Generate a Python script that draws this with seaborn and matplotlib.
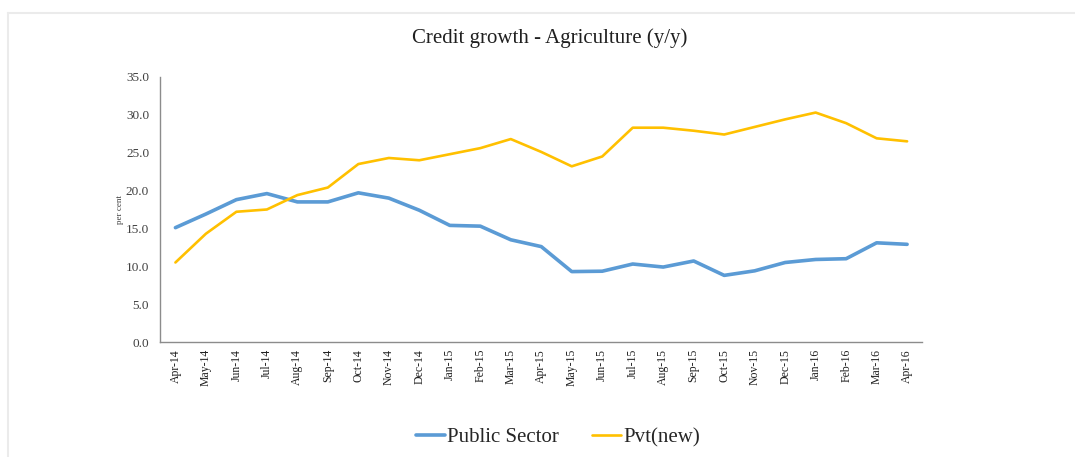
import pandas as pd
import numpy as np
import matplotlib
matplotlib.use("Agg")
import matplotlib.pyplot as plt
import seaborn as sns

months = ["Apr-14", "May-14", "Jun-14", "Jul-14", "Aug-14", "Sep-14", "Oct-14", "Nov-14",
          "Dec-14", "Jan-15", "Feb-15", "Mar-15", "Apr-15", "May-15", "Jun-15", "Jul-15",
          "Aug-15", "Sep-15", "Oct-15", "Nov-15", "Dec-15", "Jan-16", "Feb-16", "Mar-16", "Apr-16"]
public_sector = [15.1, 16.9, 18.8, 19.6, 18.5, 18.5, 19.7, 19.0, 17.4, 15.4, 15.3, 13.5, 12.6,
                 9.3, 9.35, 10.3, 9.9, 10.7, 8.8, 9.4, 10.5, 10.9, 11.0, 13.1, 12.9]
pvt_new = [10.5, 14.3, 17.2, 17.5, 19.4, 20.4, 23.5, 24.3, 24.0, 24.8, 25.6, 26.8, 25.1,
           23.2, 24.5, 28.3, 28.3, 27.9, 27.4, 28.4, 29.4, 30.3, 28.9, 26.9, 26.5]
yticks = [0, 5, 10, 15, 20, 25, 30, 35]

df = pd.DataFrame({"month": months * 2,
                   "value": public_sector + pvt_new,
                   "series": ["Public Sector"] * len(months) + ["Pvt(new)"] * len(months)})
df["pos"] = list(range(len(months))) * 2

sns.set_style("white")
plt.rcParams['font.family'] = ['Liberation Serif', 'DejaVu Serif']

fig = plt.figure(figsize=(10.75, 4.57), dpi=100)
ax = fig.add_axes([0.149, 0.2516, 0.709, 0.58])

palette = {"Public Sector": "#5b9bd5", "Pvt(new)": "#ffc000"}
sns.lineplot(data=df, x="pos", y="value", hue="series", palette=palette,
             ax=ax, legend=False, sort=False)
ax.lines[0].set_linewidth(2.6)
ax.lines[1].set_linewidth(1.9)

ax.set_xlim(-0.5, len(months) - 0.5)
ax.set_ylim(0, 35)
ax.set_yticks(yticks)
ax.set_yticklabels([f"{v:.1f}" for v in yticks], fontsize=9.5, color="#404040")
ax.set_xticks(range(len(months)))
ax.set_xticklabels(months, rotation=90, fontsize=8.5, color="#202020")
ax.set_xticks(np.arange(-0.5, len(months)), minor=True)
ax.tick_params(axis="x", which="major", length=0, pad=5)
ax.tick_params(axis="x", which="minor", length=4, color="#606060", width=0.9, direction="out")
ax.tick_params(axis="y", length=0, pad=8)
ax.set_xlabel("")
ax.set_ylabel("per cent", fontsize=6.5, color="#404040", labelpad=1)

for s in ["top", "right"]:
    ax.spines[s].set_visible(False)
for s in ["left", "bottom"]:
    ax.spines[s].set_color("#8c8c8c")
    ax.spines[s].set_linewidth(1.0)

fig.text(0.511, 0.917, "Credit growth - Agriculture (y/y)", ha="center", va="center",
         fontsize=15, color="#202020")

handles = [plt.Line2D([], [], color=palette["Public Sector"], lw=2.6),
           plt.Line2D([], [], color=palette["Pvt(new)"], lw=1.9)]
fig.legend(handles, ["Public Sector", "Pvt(new)"], loc="center", bbox_to_anchor=(0.519, 0.043),
           ncol=2, frameon=False, fontsize=15, handlelength=1.4, handletextpad=0.1,
           columnspacing=1.6)

# light border around the chart area
fig.add_artist(plt.Line2D([0.0075, 1.0], [1 - 13 / 457, 1 - 13 / 457], color="#ebebeb", lw=1.5))
fig.add_artist(plt.Line2D([0.0075, 0.0075], [0.0, 1 - 13 / 457], color="#ebebeb", lw=1.5))

fig.savefig("out.png", dpi=100)
